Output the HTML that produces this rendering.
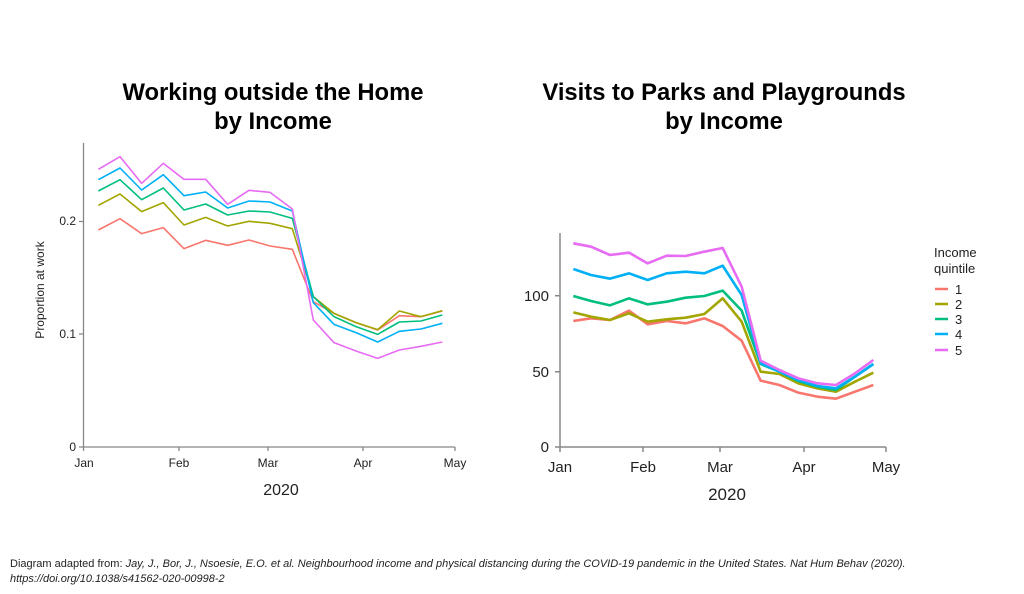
<!DOCTYPE html>
<html><head><meta charset="utf-8"><style>
body{margin:0;background:#fff;width:1024px;height:594px;overflow:hidden}
svg{display:block;font-family:"Liberation Sans",Arial,sans-serif}
</style></head><body>
<svg width="1024" height="594" viewBox="0 0 1024 594">
<g font-weight="bold" font-size="23.8" text-anchor="middle" fill="#000">
<text x="273" y="100">Working outside the Home</text>
<text x="273" y="129">by Income</text>
<text x="724" y="100">Visits to Parks and Playgrounds</text>
<text x="724" y="129">by Income</text>
</g>
<!-- Left chart -->
<g stroke="#888" stroke-width="1.3" fill="none">
<path d="M83.5 143V447H455"/>
<path d="M79 447H83.5M79 334H83.5M79 221.5H83.5M83.5 447v4M179 447v4M268 447v4M363 447v4M455 447v4"/>
</g>
<g font-size="12" fill="#222">
<text x="76" y="451" text-anchor="end">0</text>
<text x="76" y="338" text-anchor="end">0.1</text>
<text x="76" y="225" text-anchor="end">0.2</text>
<g text-anchor="middle">
<text x="84" y="467">Jan</text><text x="179" y="467">Feb</text><text x="268" y="467">Mar</text><text x="363" y="467">Apr</text><text x="455" y="467">May</text>
</g>
<text transform="translate(44 290) rotate(-90)" text-anchor="middle">Proportion at work</text>
</g>
<text x="281" y="495" font-size="16" text-anchor="middle" fill="#222">2020</text>
<g transform="translate(30 140) scale(0.33333)" fill="none" stroke-width="1.6" stroke-linejoin="round">
<polyline vector-effect="non-scaling-stroke" stroke="#f8766d" points="205,270 270,236 335,281 400,263 462,326 527,301 593,316 657,300 720,318 787,328 850,485 912,520 978,548 1043,570 1108,527 1173,530 1237,513"/>
<polyline vector-effect="non-scaling-stroke" stroke="#a3a500" points="205,196 270,162 335,215 400,188 462,255 527,232 593,258 657,244 720,250 787,266 850,470 912,520 978,548 1043,569 1108,513 1173,530 1237,512"/>
<polyline vector-effect="non-scaling-stroke" stroke="#00bf7d" points="205,153 270,119 335,179 400,144 462,210 527,192 593,225 657,213 720,216 787,235 850,470 912,530 978,560 1043,583 1108,546 1173,543 1237,525"/>
<polyline vector-effect="non-scaling-stroke" stroke="#00b0f6" points="205,119 270,84 335,150 400,104 462,167 527,156 593,204 657,183 720,186 787,213 850,488 912,553 978,578 1043,606 1108,574 1173,567 1237,550"/>
<polyline vector-effect="non-scaling-stroke" stroke="#e76bf3" points="205,88 270,50 335,130 400,70 462,118 527,118 593,193 657,151 720,157 787,207 850,540 912,608 978,633 1043,655 1108,630 1173,619 1237,606"/>
</g>
<!-- Right chart -->
<g stroke="#888" stroke-width="1.5" fill="none">
<path d="M560 233V447H886"/>
<path d="M555 447H560M555 371.7H560M555 295.7H560M560 447v5M643 447v5M720 447v5M804 447v5M886 447v5"/>
</g>
<g font-size="15" fill="#222">
<text x="549" y="452" text-anchor="end">0</text>
<text x="549" y="377" text-anchor="end">50</text>
<text x="549" y="301" text-anchor="end">100</text>
<g text-anchor="middle">
<text x="560" y="472">Jan</text><text x="643" y="472">Feb</text><text x="720" y="472">Mar</text><text x="804" y="472">Apr</text><text x="886" y="472">May</text>
</g>
</g>
<text x="727" y="500" font-size="17" text-anchor="middle" fill="#222">2020</text>
<g transform="translate(520 220) scale(0.33333)" fill="none" stroke-width="2.6" stroke-linejoin="round">
<polyline vector-effect="non-scaling-stroke" stroke="#f8766d" points="160,303 213,295 270,300 327,272 383,313 440,303 497,310 553,295 608,318 665,362 722,482 778,495 835,518 892,530 948,536 1005,515 1060,495"/>
<polyline vector-effect="non-scaling-stroke" stroke="#a3a500" points="160,277 213,290 270,300 327,280 383,305 440,298 497,293 553,282 608,235 665,305 722,455 778,462 835,490 892,505 948,515 1005,485 1060,458"/>
<polyline vector-effect="non-scaling-stroke" stroke="#00bf7d" points="160,228 213,243 270,256 327,235 383,253 440,245 497,233 553,228 608,212 665,272 722,432 778,455 835,483 892,500 948,510 1005,470 1060,432"/>
<polyline vector-effect="non-scaling-stroke" stroke="#00b0f6" points="160,147 213,165 270,176 327,160 383,180 440,160 497,155 553,160 608,137 665,225 722,430 778,455 835,480 892,498 948,505 1005,470 1060,432"/>
<polyline vector-effect="non-scaling-stroke" stroke="#e76bf3" points="160,70 213,80 270,105 327,98 383,130 440,107 497,108 553,95 608,84 665,200 722,422 778,450 835,475 892,490 948,495 1005,460 1060,420"/>
</g>
<!-- Legend -->
<g font-size="13" fill="#222">
<text x="934" y="257">Income</text>
<text x="934" y="273">quintile</text>
<g font-size="13">
<text x="955" y="294">1</text><text x="955" y="309">2</text><text x="955" y="324">3</text><text x="955" y="339">4</text><text x="955" y="355">5</text>
</g>
</g>
<g stroke-width="2.5">
<line x1="935" y1="289" x2="948" y2="289" stroke="#f8766d"/>
<line x1="935" y1="304" x2="948" y2="304" stroke="#a3a500"/>
<line x1="935" y1="319" x2="948" y2="319" stroke="#00bf7d"/>
<line x1="935" y1="334" x2="948" y2="334" stroke="#00b0f6"/>
<line x1="935" y1="350" x2="948" y2="350" stroke="#e76bf3"/>
</g>
<g font-size="11" fill="#222">
<text x="10" y="567">Diagram adapted from: <tspan font-style="italic">Jay, J., Bor, J., Nsoesie, E.O. et al. Neighbourhood income and physical distancing during the COVID-19 pandemic in the United States. Nat Hum Behav (2020).</tspan></text>
<text x="10" y="582" font-style="italic">https://doi.org/10.1038/s41562-020-00998-2</text>
</g>
</svg>
</body></html>
